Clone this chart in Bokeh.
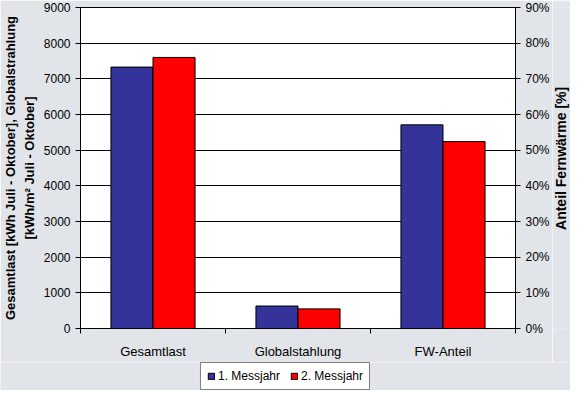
import numpy as np
from bokeh.plotting import figure
from bokeh.layouts import column, row
from bokeh.models import (Range1d, LinearAxis, FixedTicker, NumeralTickFormatter,
                          ColumnDataSource, Legend, LegendItem, Label)
from bokeh.embed import file_html
from bokeh.resources import INLINE

categories = ["Gesamtlast", "Globalstahlung", "FW-Anteil"]
series_names = ["1. Messjahr", "2. Messjahr"]
# first two categories on left axis (kWh, kWh/m²), last on right axis (share)
jahr1 = [7330, 630, 0.571]
jahr2 = [7600, 550, 0.524]
left_ticks = [0, 1000, 2000, 3000, 4000, 5000, 6000, 7000, 8000, 9000]
right_ticks = [0, 0.1, 0.2, 0.3, 0.4, 0.5, 0.6, 0.7, 0.8, 0.9]

BG = "#E1E4E8"
FONT = "Liberation Sans"
colors = ["#333399", "#FF0000"]
TICK_FS = "12px"
CAT_FS = "13px"
LEFT_TITLE_FS = "13px"
RIGHT_TITLE_PX = 14

W_MAIN, W_STRIP, H_MAIN, H_LEG = 552, 18, 362, 28
B_LEFT, B_RIGHT, B_TOP, B_BOTTOM = 76, 36, 7, 34

n = len(categories)
p = figure(width=W_MAIN, height=H_MAIN, output_backend="svg", toolbar_location=None,
           x_range=Range1d(0, n), y_range=Range1d(0, 9000),
           background_fill_color="white", border_fill_color=BG,
           outline_line_color="black", outline_line_width=1,
           min_border_left=B_LEFT, min_border_right=B_RIGHT,
           min_border_top=B_TOP, min_border_bottom=B_BOTTOM)
p.extra_y_ranges = {"pct": Range1d(0, 0.9)}

# x axis: labels at centers, tick marks at boundaries
centers = np.arange(n) + 0.5
p.xaxis.ticker = FixedTicker(ticks=list(centers), minor_ticks=list(np.arange(n + 1)))
p.xaxis.major_label_overrides = {float(c): cat for c, cat in zip(centers, categories)}
p.xaxis.major_tick_line_color = None
p.xaxis.minor_tick_out = 5
p.xaxis.minor_tick_in = 0
p.xaxis.minor_tick_line_color = "black"
p.xaxis.axis_line_color = "black"
p.xaxis.major_label_text_font = FONT
p.xaxis.major_label_text_font_size = CAT_FS
p.xaxis.major_label_text_color = "black"
p.xaxis.major_label_standoff = 9

# left axis
p.yaxis.ticker = FixedTicker(ticks=left_ticks)
p.yaxis.minor_tick_line_color = None
p.yaxis.major_tick_out = 5
p.yaxis.major_tick_in = 0
p.yaxis.axis_line_color = "black"
p.yaxis.major_label_text_font = FONT
p.yaxis.major_label_text_font_size = TICK_FS
p.yaxis.major_label_text_color = "black"
p.yaxis.major_label_standoff = 5
p.yaxis.axis_label = "Gesamtlast [kWh Juli - Oktober], Globalstrahlung\n[kWh/m² Juli - Oktober]"
p.yaxis.axis_label_text_font = FONT
p.yaxis.axis_label_text_font_size = LEFT_TITLE_FS
p.yaxis.axis_label_text_font_style = "bold"
p.yaxis.axis_label_text_color = "black"
p.yaxis.axis_label_text_line_height = 1.25
p.yaxis.axis_label_standoff = 4

# right axis (title drawn in a strip next to it)
ra = LinearAxis(y_range_name="pct", ticker=FixedTicker(ticks=right_ticks),
                formatter=NumeralTickFormatter(format="0%"))
ra.minor_tick_line_color = None
ra.major_tick_out = 5
ra.major_tick_in = 0
ra.major_label_text_font = FONT
ra.major_label_text_font_size = TICK_FS
ra.major_label_text_color = "black"
ra.major_label_standoff = 5
p.add_layout(ra, "right")

p.xgrid.grid_line_color = None
p.ygrid.ticker = FixedTicker(ticks=left_ticks)
p.ygrid.grid_line_color = "black"
p.ygrid.grid_line_width = 1

bw = 0.29
offsets = [-bw / 2, bw / 2]
for s, (vals, col) in enumerate(zip([jahr1, jahr2], colors)):
    src_abs = ColumnDataSource(dict(x=centers[:2] + offsets[s], top=vals[:2]))
    src_pct = ColumnDataSource(dict(x=centers[2:] + offsets[s], top=vals[2:]))
    p.vbar(x="x", top="top", width=bw, source=src_abs, fill_color=col,
           line_color="black", line_width=1)
    p.vbar(x="x", top="top", width=bw, source=src_pct, fill_color=col,
           line_color="black", line_width=1, y_range_name="pct")

# strip holding the right axis title (reads bottom to top)
rs = figure(width=W_STRIP, height=H_MAIN, output_backend="svg", toolbar_location=None,
            x_range=Range1d(0, W_STRIP), y_range=Range1d(0, H_MAIN),
            x_axis_location=None, y_axis_location=None,
            background_fill_color=BG, border_fill_color=BG, outline_line_color=None,
            min_border=0)
rs.xgrid.grid_line_color = None
rs.ygrid.grid_line_color = None
frame_mid = B_BOTTOM + (H_MAIN - B_TOP - B_BOTTOM) / 2
title_len = 10.2 * RIGHT_TITLE_PX  # approx. text length, text starts at its anchor
rs.add_layout(Label(x=W_STRIP / 2 - 1, y=frame_mid - 12 - title_len / 2,
                    text="Anteil Fernwärme [%]",
                    angle=np.pi / 2, text_align="left", text_baseline="middle",
                    text_font=FONT, text_font_size=f"{RIGHT_TITLE_PX}px",
                    text_font_style="bold", text_color="black"))

# legend strip below the chart
lf = figure(width=W_MAIN + W_STRIP, height=H_LEG, output_backend="svg", toolbar_location=None,
            x_range=Range1d(0, 1), y_range=Range1d(0, 1),
            x_axis_location=None, y_axis_location=None,
            background_fill_color=BG, border_fill_color=BG, outline_line_color=None,
            min_border=0)
lf.xgrid.grid_line_color = None
lf.ygrid.grid_line_color = None
items = []
for col, name in zip(colors, series_names):
    # legend proxy glyph, placed outside the visible range
    r = lf.vbar(x=[5], top=[5], bottom=[4], width=0.1, fill_color=col,
                line_color="black", line_width=1)
    items.append(LegendItem(label=name, renderers=[r]))
legend = Legend(items=items, orientation="horizontal", location="center",
                label_text_font=FONT, label_text_font_size=TICK_FS,
                label_text_color="black",
                border_line_color="black", border_line_width=1,
                background_fill_color="white", background_fill_alpha=1,
                glyph_width=8, glyph_height=8, label_standoff=3,
                spacing=10, padding=6, margin=0, label_height=12)
lf.add_layout(legend, "center")

layout = column(row(p, rs, spacing=0), lf, spacing=0)
open("out.html", "w").write(file_html(layout, INLINE))
